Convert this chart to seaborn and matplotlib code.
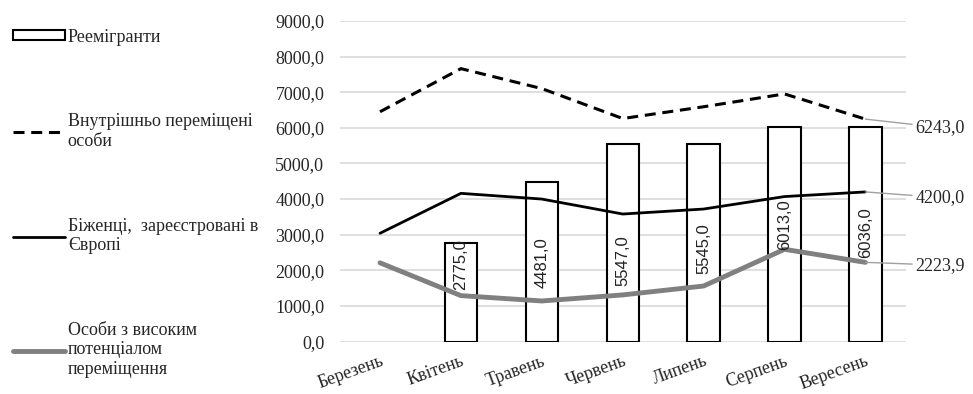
import matplotlib
matplotlib.use("Agg")
import matplotlib.pyplot as plt
import seaborn as sns
import numpy as np
import pandas as pd
from matplotlib.patches import Patch
from matplotlib.lines import Line2D
from matplotlib.ticker import FuncFormatter

# Дані
months = ["Березень", "Квітень", "Травень", "Червень", "Липень", "Серпень", "Вересень"]
reemigrants = [np.nan, 2775.0, 4481.0, 5547.0, 5545.0, 6013.0, 6036.0]
idp = [6450.0, 7660.0, 7100.0, 6260.0, 6590.0, 6950.0, 6243.0]
refugees = [3040.0, 4160.0, 4000.0, 3580.0, 3720.0, 4070.0, 4200.0]
high_potential = [2210.0, 1290.0, 1140.0, 1310.0, 1560.0, 2590.0, 2223.9]

lab_bars = "Реемігранти"
lab_idp = "Внутрішньо переміщені\nособи"
lab_ref = "Біженці,  зареєстровані в\nЄвропі"
lab_high = "Особи з високим\nпотенціалом\nпереміщення"

# розташування підписів стовпців (по осі y)
bar_label_y = [np.nan, 2150, 2230, 2260, 2620, 3270, 3070]

sns.set_theme(style="white")
plt.rcParams["font.family"] = ["Liberation Serif", "DejaVu Serif"]

df = pd.DataFrame({"month": months, "reemigrants": reemigrants, "idp": idp,
                   "refugees": refugees, "high": high_potential})
df["x"] = np.arange(len(months))

fig = plt.figure(figsize=(9.73, 3.94), dpi=100)
ax = fig.add_axes([0.349, 0.133, 0.582, 0.814])

ax.yaxis.grid(True, color="#d9d9d9", linewidth=1.2)
ax.set_axisbelow(True)

dash = (0, (3.6, 2.2))
sns.barplot(data=df, x="month", y="reemigrants", ax=ax, width=0.4,
            color="white", edgecolor="black", linewidth=1.5, zorder=2)
sns.lineplot(data=df, x="x", y="idp", ax=ax, color="black", lw=2.2,
             linestyle=dash, sort=False, zorder=3)
sns.lineplot(data=df, x="x", y="refugees", ax=ax, color="black", lw=2,
             sort=False, zorder=3)
sns.lineplot(data=df, x="x", y="high", ax=ax, color="#808080", lw=3.5,
             sort=False, zorder=3)

for i, (v, ly) in enumerate(zip(reemigrants, bar_label_y)):
    if np.isnan(v):
        continue
    ax.text(i, ly, f"{v:.1f}".replace(".", ","), rotation=90, ha="center",
            va="center", fontsize=12, color="#222222",
            family=["Liberation Sans Narrow", "Liberation Sans"], zorder=4)

# підписи останніх значень ліній
for series, dy in [(idp, -6), (refugees, -4), (high_potential, -2)]:
    v = series[-1]
    ax.annotate(f"{v:.1f}".replace(".", ","), xy=(6, v), xytext=(36, dy),
                textcoords="offset points", ha="left", va="center",
                fontsize=13, annotation_clip=False,
                arrowprops=dict(arrowstyle="-", color="#a0a0a0", lw=1,
                                shrinkA=0, shrinkB=0))

ax.set_xlim(-0.5, 6.5)
ax.set_ylim(0, 9000)
ax.set_yticks(np.arange(0, 9001, 1000))
ax.yaxis.set_major_formatter(FuncFormatter(lambda v, p: f"{v:.1f}".replace(".", ",")))
ax.set_xticks(range(len(months)))
ax.set_xticklabels(months, rotation=20, ha="right", rotation_mode="anchor", fontsize=13)
ax.tick_params(axis="y", labelsize=13, length=0, pad=11)
ax.tick_params(axis="x", length=0, pad=8)
ax.set_xlabel("")
ax.set_ylabel("")
sns.despine(ax=ax, left=True, bottom=True)

handles = [
    Patch(facecolor="white", edgecolor="black", linewidth=1.5),
    Line2D([], [], color="black", lw=2.2, linestyle=dash),
    Line2D([], [], color="black", lw=2),
    Line2D([], [], color="#808080", lw=3.5),
]
fig.legend(handles, [lab_bars, lab_idp, lab_ref, lab_high], loc="upper left",
           bbox_to_anchor=(0.002, 0.955), frameon=False, fontsize=13,
           handlelength=2.9, handleheight=0.5, handletextpad=0.15,
           labelspacing=3.75, alignment="left", borderaxespad=0.2)

fig.savefig("out.png", dpi=100)
